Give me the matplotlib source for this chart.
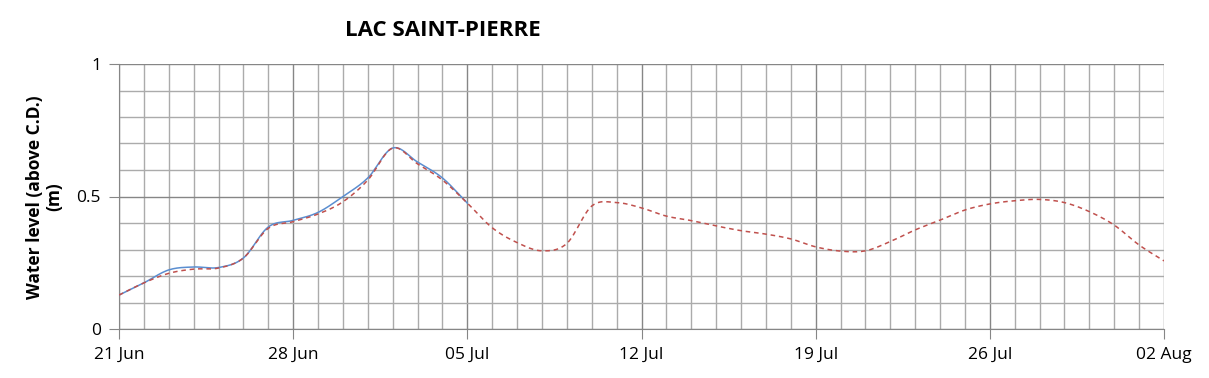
import numpy as np
import matplotlib
matplotlib.use('Agg')
import matplotlib.pyplot as plt
import matplotlib.dates as mdates
from matplotlib.ticker import MultipleLocator

plt.rcParams['font.family'] = ['Open Sans', 'DejaVu Sans']

# Data (daily values, metres above chart datum)
start_date = np.datetime64('2019-06-21')
observed = [0.128, 0.174, 0.223, 0.234, 0.232, 0.268, 0.385, 0.410, 0.440, 0.500,
            0.570, 0.683, 0.630, 0.570, 0.475]
forecast = [0.128, 0.174, 0.210, 0.226, 0.230, 0.268, 0.380, 0.405, 0.434, 0.480,
            0.562, 0.683, 0.623, 0.562, 0.475, 0.382, 0.326, 0.295, 0.323, 0.464,
            0.477, 0.457, 0.426, 0.409, 0.389, 0.371, 0.358, 0.340, 0.310, 0.294,
            0.295, 0.330, 0.374, 0.411, 0.449, 0.472, 0.484, 0.489, 0.477, 0.443,
            0.392, 0.317, 0.257]
n_days = 42


def smooth(x, y, n=12):
    # Catmull-Rom curve through the points, like an Excel "smoothed line"
    x = np.asarray(x, float)
    y = np.asarray(y, float)
    px = np.concatenate([[2 * x[0] - x[1]], x, [2 * x[-1] - x[-2]]])
    py = np.concatenate([[2 * y[0] - y[1]], y, [2 * y[-1] - y[-2]]])
    xs, ys = [], []
    t = np.linspace(0, 1, n, endpoint=False)
    for i in range(1, len(px) - 2):
        for p, out in ((px, xs), (py, ys)):
            p0, p1, p2, p3 = p[i - 1], p[i], p[i + 1], p[i + 2]
            out.append(0.5 * ((2 * p1) + (-p0 + p2) * t
                              + (2 * p0 - 5 * p1 + 4 * p2 - p3) * t ** 2
                              + (-p0 + 3 * p1 - 3 * p2 + p3) * t ** 3))
    xs.append([x[-1]])
    ys.append([y[-1]])
    return np.concatenate(xs), np.concatenate(ys)


def day_nums(offsets):
    d = start_date + np.asarray(offsets).astype('timedelta64[D]')
    return mdates.date2num(d.astype('datetime64[s]').astype(object))


fig = plt.figure(figsize=(12.09, 3.78), dpi=100)
ax = fig.add_axes([119 / 1209, 1 - 329 / 378, (1164 - 119) / 1209, (329 - 64) / 378])

xo, yo = smooth(day_nums(np.arange(len(observed))), observed)
xf, yf = smooth(day_nums(np.arange(len(forecast))), forecast)
ax.plot(xo, yo, color='#5B8ED0', lw=1.1, zorder=3)
ax.plot(xf, yf, color='#C0504D', lw=1.1, ls=(0, (3, 2.5)), zorder=4)

ax.set_xlim(day_nums([0, n_days]))
ax.set_ylim(0, 1)

ax.set_xticks(day_nums(np.arange(0, n_days + 1, 7)))
ax.set_xticks(day_nums(np.arange(0, n_days + 1)), minor=True)
ax.xaxis.set_major_formatter(mdates.DateFormatter('%d %b'))
ax.yaxis.set_major_locator(MultipleLocator(0.5))
ax.yaxis.set_minor_locator(MultipleLocator(0.1))
ax.yaxis.set_major_formatter(lambda v, pos: f'{v:g}')

ax.grid(which='minor', color='#ABABAB', lw=1.0)
ax.grid(which='major', color='#868686', lw=1.0)
ax.set_axisbelow(True)
ax.tick_params(which='major', length=7, color='#868686', labelsize=12.5,
               labelcolor='#000000', pad=6)
ax.tick_params(which='minor', length=0)
for side in ('top', 'right'):
    ax.spines[side].set_visible(False)
for side in ('left', 'bottom'):
    ax.spines[side].set_color('#868686')

fig.text(443 / 1209, 1 - 31 / 378, 'LAC SAINT-PIERRE', ha='center', va='center',
         fontsize=16, fontweight='bold')
fig.text(45 / 1209, 1 - 197 / 378, 'Water level (above C.D.)\n(m)', rotation=90,
         ha='center', va='center', multialignment='center', fontsize=12.5,
         fontweight='bold', linespacing=1.1)

fig.savefig('out.png', dpi=100)
